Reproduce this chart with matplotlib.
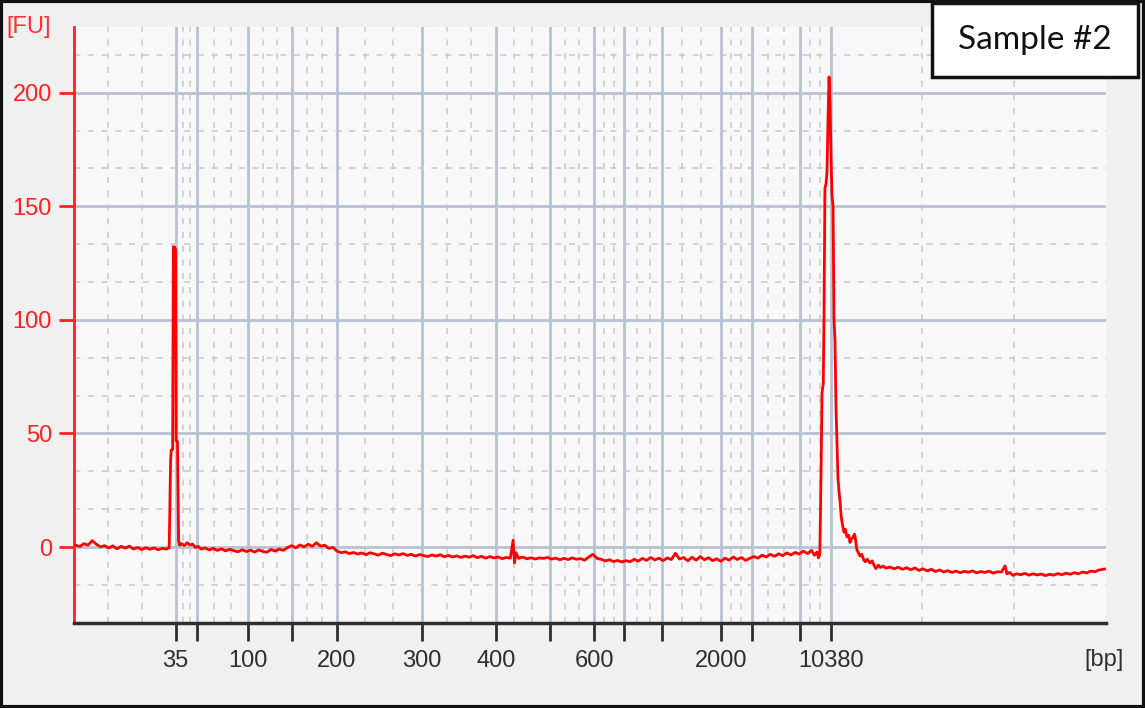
import matplotlib.pyplot as plt
import numpy as np
from matplotlib.patches import Rectangle

# ladder peaks: size (bp) and migration time (s)
ladder_bp = [35, 50, 100, 150, 200, 300, 400, 500, 600, 700, 1000, 2000, 3000, 7000, 10380]
ladder_time = [47.37, 48.90, 52.61, 55.85, 59.08, 65.26, 70.66, 74.58, 77.80, 79.98,
               82.75, 87.01, 89.25, 92.76, 94.99]
shown_bp = [35, 100, 200, 300, 400, 600, 2000, 10380]

fu_ticks = [0, 50, 100, 150, 200]

# electropherogram trace
time_s = [40.05, 40.4, 40.7, 41.0, 41.3, 41.6, 41.9, 42.2, 42.5, 42.8, 43.1, 43.4, 43.7, 44.0,
          44.3, 44.6, 44.9, 45.2, 45.5, 45.8, 46.1, 46.4, 46.7, 46.9,
          47.0, 47.05, 47.15, 47.2, 47.3, 47.36, 47.4, 47.5, 47.58, 47.65,
          47.8, 48.0, 48.2, 48.4, 48.6, 48.8, 49.0, 49.2, 49.5, 49.8, 50.1, 50.4, 50.7, 51.0,
          51.3, 51.6, 51.9, 52.2, 52.5, 52.8, 53.1, 53.4, 53.7, 54.0, 54.3, 54.6, 54.9, 55.2,
          55.5, 55.8, 56.1, 56.4, 56.7, 57.0, 57.3, 57.6, 57.9, 58.2, 58.5, 58.8, 59.1, 59.4,
          59.7, 60.0, 60.3, 60.6, 60.9, 61.2, 61.5, 61.8, 62.1, 62.4, 62.7, 63.0, 63.3, 63.6,
          63.9, 64.2, 64.5, 64.8, 65.1, 65.4, 65.7, 66.0, 66.3, 66.6, 66.9, 67.2, 67.5, 67.8,
          68.1, 68.4, 68.7, 69.0, 69.3, 69.6, 69.9, 70.2, 70.5, 70.8, 71.1, 71.4, 71.7, 71.9,
          72.0, 72.1, 72.3, 72.6, 72.9, 73.2, 73.5, 73.8, 74.1, 74.4, 74.7, 75.0, 75.3, 75.6,
          75.9, 76.2, 76.5, 76.8, 77.1, 77.4, 77.7, 78.0, 78.3, 78.6, 78.9, 79.2, 79.5, 79.8,
          80.1, 80.4, 80.7, 81.0, 81.3, 81.6, 81.9, 82.2, 82.5, 82.8, 83.1, 83.4, 83.7, 84.0,
          84.3, 84.6, 84.9, 85.2, 85.5, 85.8, 86.1, 86.4, 86.7, 87.0, 87.3, 87.6, 87.9, 88.2,
          88.5, 88.8, 89.1, 89.4, 89.7, 90.0, 90.3, 90.6, 90.9, 91.2, 91.5, 91.8, 92.1, 92.4,
          92.7, 93.0, 93.3, 93.6, 93.8, 94.0, 94.1, 94.2,
          94.28, 94.36, 94.45, 94.5, 94.57, 94.65, 94.72, 94.8, 94.87, 94.94, 95.02, 95.08,
          95.16, 95.23, 95.3, 95.38, 95.45, 95.52, 95.6, 95.67, 95.74, 95.81, 95.9, 95.96,
          96.05, 96.17, 96.3, 96.39, 96.5, 96.61, 96.7, 96.76, 96.85, 96.9, 97.0, 97.12,
          97.25, 97.4, 97.5, 97.65, 97.84, 98.0, 98.15, 98.28, 98.45, 98.6, 98.8, 99.0,
          99.3, 99.6, 99.9, 100.2, 100.5, 100.8, 101.1, 101.4, 101.7, 102.0, 102.3, 102.6,
          102.9, 103.2, 103.5, 103.8, 104.1, 104.4, 104.7, 105.0, 105.3, 105.6, 105.9, 106.2,
          106.5, 106.8, 107.1, 107.4, 107.67, 107.8, 108.0, 108.25, 108.5, 108.8, 109.1, 109.4,
          109.7, 110.0, 110.3, 110.6, 110.9, 111.2, 111.5, 111.8, 112.1, 112.4, 112.7, 113.0,
          113.3, 113.6, 113.9, 114.2, 114.5, 114.9]
fu = [0.9, 0.2, 1.5, 0.8, 2.8, 1.2, 0.1, 0.6, -0.4, 0.5, -0.8, 0.3, -0.5, 0.4,
      -0.9, -0.2, -1.1, -0.3, -1.0, -0.4, -1.2, -0.6, -0.9, -0.3,
      38, 42.7, 43, 132.3, 132, 131, 46.8, 46.5, 3, 0.8,
      1.5, 0.6, 1.9, 0.9, 1.3, -0.2, 0.3, -0.9, -0.4, -1.3, -0.6, -1.5, -0.8, -1.7,
      -1.0, -1.6, -2.1, -1.2, -2.0, -1.4, -2.2, -1.3, -1.9, -2.3, -1.1, -1.8, -0.9, -1.5,
      -0.2, 0.6, -0.4, 0.9, 0.1, 1.2, 0.3, 1.9, 0.4, 0.8, -0.6, -0.2, -1.8, -2.5,
      -2.1, -2.9, -2.4, -3.1, -2.6, -3.4, -2.5, -3.0, -3.6, -2.7, -3.3, -3.8, -3.0, -3.5,
      -2.9, -3.7, -3.2, -4.0, -3.3, -3.8, -4.2, -3.5, -4.0, -3.4, -4.3, -3.7, -4.4, -3.9,
      -4.6, -4.0, -4.5, -3.8, -4.7, -4.1, -4.9, -4.2, -4.8, -4.4, -5.1, -4.6, -4.9, 3.0,
      -7.0, -2.5, -5.0, -4.4, -5.2, -4.7, -5.3, -4.8, -5.0, -4.6, -5.3, -4.9, -5.6, -5.0,
      -5.5, -4.8, -5.4, -5.1, -5.8, -4.4, -3.2, -5.0, -5.4, -6.1, -5.6, -6.4, -5.9, -6.6,
      -6.0, -6.5, -5.4, -6.2, -5.0, -5.9, -4.6, -5.7, -4.9, -6.0, -4.8, -5.5, -2.8, -5.3,
      -4.6, -6.1, -4.5, -5.8, -4.2, -5.6, -4.7, -6.0, -5.2, -6.3, -4.9, -5.8, -4.4, -5.5,
      -4.6, -5.9, -5.0, -4.2, -4.9, -3.6, -4.4, -3.2, -4.1, -3.0, -3.8, -2.6, -3.5, -2.4,
      -3.1, -1.8, -2.9, -1.5, -3.6, -2.2, -4.8, -3.0,
      30, 68, 72, 100, 158, 160, 165, 190, 207, 195, 170, 155,
      150, 100, 91, 60, 45, 30, 24, 20, 14, 11, 8, 6.5,
      7.8, 4.5, 5.2, 2.0, 3.6, 4.2, 5.6, 4.8, 0.5, -1.3, -2.5, -4.0,
      -3.2, -5.8, -6.5, -5.4, -7.0, -6.1, -8.2, -9.5, -8.0, -9.0, -8.4, -9.3,
      -8.8, -9.6, -8.9, -9.8, -9.1, -10.0, -9.2, -10.3, -9.6, -10.5, -9.8, -10.8,
      -10.1, -11.0, -10.4, -11.2, -10.6, -11.3, -10.7, -11.1, -10.5, -11.4, -10.8, -11.2,
      -10.6, -11.5, -10.9, -11.0, -8.3, -11.8, -11.2, -12.5, -11.8, -12.2, -11.6, -12.4,
      -11.8, -12.3, -11.9, -12.6, -12.0, -12.4, -11.7, -12.2, -11.5, -12.0, -11.3, -11.8,
      -11.0, -11.4, -10.6, -10.9, -10.1, -9.7]

t_min, t_max = 40.0, 115.0
fu_min, fu_max = -33.6, 229.1

fig = plt.figure(figsize=(11.45, 7.08), dpi=100, facecolor='#f0f0f0')
ax = fig.add_axes([0.0649, 0.1196, 0.9010, 0.8427])
ax.set_facecolor('#f8f8f8')

ax.plot(time_s, fu, color='#ff0000', lw=2, zorder=5)
ax.set_xlim(t_min, t_max)
ax.set_ylim(fu_min, fu_max)

# major ticks = ladder peaks, minor ticks = thirds in between (dashed grid)
labels = [str(b) if b in shown_bp else '' for b in ladder_bp]
ax.set_xticks(ladder_time, labels)
edges = [t_min] + ladder_time + [t_max]
minor_x = []
for a, b in zip(edges[:-1], edges[1:]):
    minor_x += [a + (b - a) / 3, a + 2 * (b - a) / 3]
ax.set_xticks(minor_x, minor=True)
ax.set_yticks(fu_ticks)
minor_y = [v for v in np.arange(-50 / 3, 229, 50 / 3) if abs(v / 50 - round(v / 50)) > 0.01]
ax.set_yticks(minor_y, minor=True)

ax.grid(which='major', color='#b7c2d3', lw=2, zorder=1)
ax.grid(which='minor', color='#c8c8c8', lw=1.1, ls=(0, (4, 5)), zorder=1)
ax.set_axisbelow(True)

for s in ['top', 'right']:
    ax.spines[s].set_visible(False)
ax.spines['left'].set_color('#ff2020')
ax.spines['left'].set_linewidth(2)
ax.spines['bottom'].set_color('#2e2e2e')
ax.spines['bottom'].set_linewidth(2.5)

ax.tick_params(axis='y', which='major', colors='#ff2020', length=11, width=2, pad=5,
               labelsize=17, labelfontfamily='Liberation Sans')
ax.tick_params(axis='x', which='major', colors='#2e2e2e', length=13, width=2, pad=6,
               labelsize=17, labelfontfamily='Liberation Sans')
ax.tick_params(which='minor', length=0)

fig.text(29 / 1145, 1 - 27 / 708, '[FU]', color='#ff3030', fontsize=17,
         family='Liberation Sans', ha='center', va='center')
fig.text(1104 / 1145, 1 - 660 / 708, '[bp]', color='#2e2e2e', fontsize=17,
         family='Liberation Sans', ha='center', va='center')

# sample box
fig.patches.append(Rectangle((932 / 1145, 1 - 77 / 708), 206 / 1145, 74 / 708,
                             transform=fig.transFigure, facecolor='white',
                             edgecolor='#111111', lw=2.5, zorder=10))
fig.text(1035 / 1145, 1 - 40 / 708, 'Sample #2', fontsize=24, family='Lato',
         ha='center', va='center', color='#111111', zorder=11)

# outer frame
fig.patches.append(Rectangle((0.001, 0.002), 0.998, 0.996, transform=fig.transFigure,
                             fill=False, edgecolor='#111111', lw=3, zorder=12))

fig.savefig('out.png', dpi=100, facecolor=fig.get_facecolor())
